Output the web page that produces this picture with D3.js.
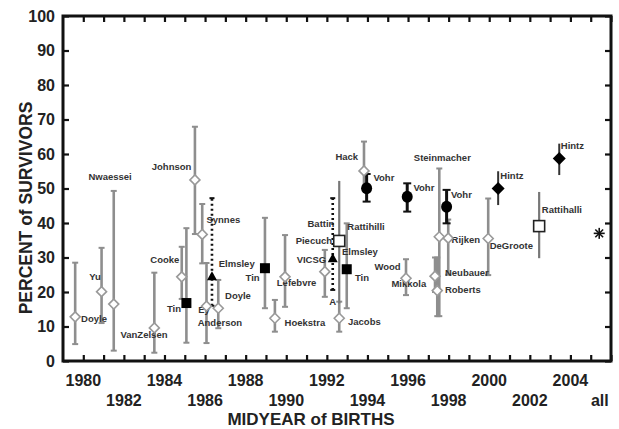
<!DOCTYPE html>
<html>
<head>
<meta charset="utf-8">
<script src="https://cdn.jsdelivr.net/npm/d3@7/dist/d3.min.js"></script>
<style>
  body { margin: 0; background: #fff; }
  svg { display: block; font-family: "Liberation Sans", Arial, sans-serif; }
</style>
</head>
<body>
<svg id="chart" width="619" height="429"></svg>
<script>
// dati: [anno, valore, min, max]
const openDiamonds = [
  [1979.6, 12.8, 4.9, 28.5],
  [1980.9, 20.1, 11, 32.8],
  [1981.5, 16.5, 3, 49.3],
  [1983.5, 9.6, 2.4, 25.6],
  [1984.85, 24.4, 18, 33.1],
  [1985.5, 52.5, 36.8, 67.9],
  [1985.86, 36.7, 28.3, 45.5],
  [1986.07, 15.9, 5.2, 28.4],
  [1986.65, 15.3, 9.5, 23.5],
  [1989.44, 12.4, 8.5, 17.7],
  [1989.94, 24.4, 15.7, 36.5],
  [1991.9, 25.9, 18.6, 32.2],
  [1992.61, 12.4, 8.5, 17.2],
  [1993.83, 55.1, 50, 63.6],
  [1995.9, 24, 19.1, 29.5],
  [1997.33, 24.6, 20, 30],
  [1997.44, 20.4, 13, 30],
  [1997.54, 36, 13, 55.8],
  [1997.98, 35.6, 25, 41],
  [1999.95, 35.5, 24.9, 47.1]
];
const blackSquares = [
  [1985.08, 16.8, 5.3, 38.5],
  [1988.95, 26.9, 15.3, 41.5],
  [1992.98, 26.6, 15.3, 39.9]
];
const blackTriangles = [
  [1986.34, 24.6, 16, 47.2],
  [1992.29, 29.8, 20.6, 47.2]
];
const openSquares = [
  [1992.61, 34.8, 16.7, 52.2],
  [2002.46, 39.1, 29.8, 49]
];
const blackCircles = [
  [1993.96, 50.1, 46.2, 54.2],
  [1995.96, 47.6, 43.3, 51.5],
  [1997.9, 44.7, 39.9, 49.6]
];
const blackDiamonds = [
  [2000.44, 50, 45.2, 55],
  [2003.45, 58.7, 53.9, 63]
];
const allPoint = [2005.42, 37];

// etichette degli studi: [testo, anno, valore]
const studyLabels = [
  ["Nwaessei", 1981.32, 53.6], ["Doyle", 1980.53, 12.4], ["Yu", 1980.58, 24.4],
  ["VanZelsen", 1982.99, 7.8], ["Cooke", 1984.02, 29.5], ["Tin", 1984.47, 15.3],
  ["Johnson", 1984.35, 56.3], ["Synnes", 1986.9, 40.9], ["Ey", 1985.95, 15.0],
  ["Anderson", 1986.73, 11.3], ["Doyle", 1987.62, 19.1], ["Elmsley", 1987.56, 28.3],
  ["Tin", 1988.34, 24.3], ["Lefebvre", 1990.51, 22.7], ["Hoekstra", 1990.92, 11.1],
  ["Hack", 1992.98, 59.2], ["Battin", 1991.71, 39.9], ["Piecuch", 1991.36, 34.8],
  ["VICSG", 1991.24, 29.5], ["Rattihilli", 1993.93, 39.0], ["Elmsley", 1993.63, 31.7],
  ["Tin", 1993.73, 24.3], ["Jacobs", 1993.85, 11.4], ["A", 1992.29, 17.2],
  ["Vohr", 1994.81, 53.1], ["Wood", 1994.99, 27.3], ["Mikkola", 1996.04, 22.6],
  ["Vohr", 1996.78, 50.3], ["Steinmacher", 1997.69, 59], ["Vohr", 1998.63, 48.4],
  ["Rijken", 1998.85, 35.1], ["Neubauer", 1998.9, 25.6], ["Roberts", 1998.7, 20.6],
  ["DeGroote", 2001.09, 33.6], ["Hintz", 2001.12, 53.9], ["Rattihalli", 2003.58, 44],
  ["Hintz", 2004.1, 62.6]
];

const yTicks = d3.range(0, 101, 10);
const xTicksRow1 = [1980, 1984, 1988, 1992, 1996, 2000, 2004];
const xTicksRow2 = [1982, 1986, 1990, 1994, 1998, 2002];
const allLabel = ["all", 2005.45];

const svg = d3.select("#chart");
const x = d3.scaleLinear().domain([1979, 2006]).range([63, 611]);
const y = d3.scaleLinear().domain([0, 100]).range([361, 16]);

const gray = "#8e8e8e";

// barre di errore
function errorBars(data, color, width, cap, dash) {
  const g = svg.append("g")
    .style("stroke", color)
    .style("stroke-width", width);
  data.forEach(d => {
    g.append("line")
      .attr("x1", x(d[0])).attr("x2", x(d[0]))
      .attr("y1", y(d[2])).attr("y2", y(d[3]))
      .style("stroke-dasharray", dash || null);
    if (cap > 0) {
      [d[2], d[3]].forEach(v => {
        g.append("line")
          .attr("x1", x(d[0]) - cap).attr("x2", x(d[0]) + cap)
          .attr("y1", y(v)).attr("y2", y(v))
          .style("stroke-width", 2);
      });
    }
  });
}

errorBars(openDiamonds, gray, 2.6, 3);
errorBars(blackSquares, gray, 2.6, 3);
errorBars(openSquares, "#777", 2.2, 0);
errorBars(blackTriangles, "#111", 2.6, 2.5, "2,3");
errorBars(blackCircles, "#111", 3, 4);
errorBars(blackDiamonds, "#333", 2, 0);

// etichette
svg.append("g").selectAll("text")
  .data(studyLabels)
  .join("text")
  .attr("x", d => x(d[1]))
  .attr("y", d => y(d[2]))
  .attr("text-anchor", "middle")
  .attr("dominant-baseline", "central")
  .style("font-size", "9.5px")
  .style("font-weight", "bold")
  .style("fill", "#333")
  .text(d => d[0]);

// simboli
function diamond(s) {
  return "M0," + (-s) + "L" + s + ",0L0," + s + "L" + (-s) + ",0Z";
}
function triangle(s) {
  return "M0," + (-s) + "L" + s + "," + (s * 0.8) + "L" + (-s) + "," + (s * 0.8) + "Z";
}

svg.append("g").selectAll("path")
  .data(openDiamonds)
  .join("path")
  .attr("transform", d => "translate(" + x(d[0]) + "," + y(d[1]) + ")")
  .attr("d", diamond(5))
  .style("fill", "#fff")
  .style("stroke", "#999")
  .style("stroke-width", 1.6);

svg.append("g").selectAll("rect")
  .data(blackSquares)
  .join("rect")
  .attr("x", d => x(d[0]) - 5).attr("y", d => y(d[1]) - 5)
  .attr("width", 10).attr("height", 10)
  .style("fill", "#000");

svg.append("g").selectAll("rect")
  .data(openSquares)
  .join("rect")
  .attr("x", d => x(d[0]) - 5.5).attr("y", d => y(d[1]) - 5.5)
  .attr("width", 11).attr("height", 11)
  .style("fill", "#fff")
  .style("stroke", "#222")
  .style("stroke-width", 1.6);

svg.append("g").selectAll("path")
  .data(blackTriangles)
  .join("path")
  .attr("transform", d => "translate(" + x(d[0]) + "," + y(d[1]) + ")")
  .attr("d", triangle(5))
  .style("fill", "#000");

svg.append("g").selectAll("ellipse")
  .data(blackCircles)
  .join("ellipse")
  .attr("cx", d => x(d[0])).attr("cy", d => y(d[1]))
  .attr("rx", 5.5).attr("ry", 6)
  .style("fill", "#000");

svg.append("g").selectAll("path")
  .data(blackDiamonds)
  .join("path")
  .attr("transform", d => "translate(" + x(d[0]) + "," + y(d[1]) + ")")
  .attr("d", diamond(6.5))
  .style("fill", "#000");

// asterisco per "all"
const star = svg.append("g")
  .attr("transform", "translate(" + x(allPoint[0]) + "," + y(allPoint[1]) + ")")
  .style("stroke", "#111").style("stroke-width", 1.6);
[0, 45, 90, 135].forEach(a => {
  star.append("line")
    .attr("x1", -5.5).attr("x2", 5.5).attr("y1", 0).attr("y2", 0)
    .attr("transform", "rotate(" + a + ")");
});

// assi
const yearTicks = d3.range(1980, 2007, 1);
svg.append("g")
  .attr("transform", "translate(0," + y(0) + ")")
  .call(d3.axisTop(x).tickValues(yearTicks).tickSize(6).tickFormat(""))
  .call(g => g.selectAll("line").style("stroke", "#111").style("stroke-width", 2.2));
svg.append("g")
  .attr("transform", "translate(0," + y(100) + ")")
  .call(d3.axisBottom(x).tickValues(yearTicks).tickSize(6).tickFormat(""))
  .call(g => g.selectAll("line").style("stroke", "#111").style("stroke-width", 2.2));
svg.append("g")
  .attr("transform", "translate(" + x(1979) + ",0)")
  .call(d3.axisRight(y).tickValues(yTicks).tickSize(6).tickFormat(""))
  .call(g => g.selectAll("line").style("stroke", "#111").style("stroke-width", 2.2));
svg.append("g")
  .attr("transform", "translate(" + x(2006) + ",0)")
  .call(d3.axisLeft(y).tickValues(yTicks).tickSize(6).tickFormat(""))
  .call(g => g.selectAll("line").style("stroke", "#111").style("stroke-width", 2.2));
svg.selectAll(".domain").remove();

svg.append("rect")
  .attr("x", x(1979)).attr("y", y(100))
  .attr("width", x(2006) - x(1979)).attr("height", y(0) - y(100))
  .style("fill", "none").style("stroke", "#111").style("stroke-width", 3);

// etichette dei tick
svg.append("g").selectAll("text")
  .data(yTicks)
  .join("text")
  .attr("x", 55).attr("y", d => y(d))
  .attr("text-anchor", "end")
  .attr("dominant-baseline", "central")
  .style("font-size", "16px").style("font-weight", "bold").style("fill", "#222")
  .text(d => d);

svg.append("g").selectAll("text")
  .data(xTicksRow1)
  .join("text")
  .attr("x", d => x(d)).attr("y", 386)
  .attr("text-anchor", "middle")
  .style("font-size", "16px").style("font-weight", "bold").style("fill", "#222")
  .text(d => d);

svg.append("g").selectAll("text")
  .data(xTicksRow2.map(d => [String(d), d]).concat([allLabel]))
  .join("text")
  .attr("x", d => x(d[1])).attr("y", 406)
  .attr("text-anchor", "middle")
  .style("font-size", "16px").style("font-weight", "bold").style("fill", "#222")
  .text(d => d[0]);

// titoli degli assi
svg.append("text")
  .attr("x", 311).attr("y", 425)
  .attr("text-anchor", "middle")
  .style("font-size", "17px").style("font-weight", "bold").style("fill", "#222")
  .text("MIDYEAR of BIRTHS");

svg.append("text")
  .attr("transform", "translate(32,208) rotate(-90)")
  .attr("text-anchor", "middle")
  .style("font-size", "17.5px").style("font-weight", "bold").style("fill", "#222")
  .text("PERCENT of SURVIVORS");
</script>
</body>
</html>
